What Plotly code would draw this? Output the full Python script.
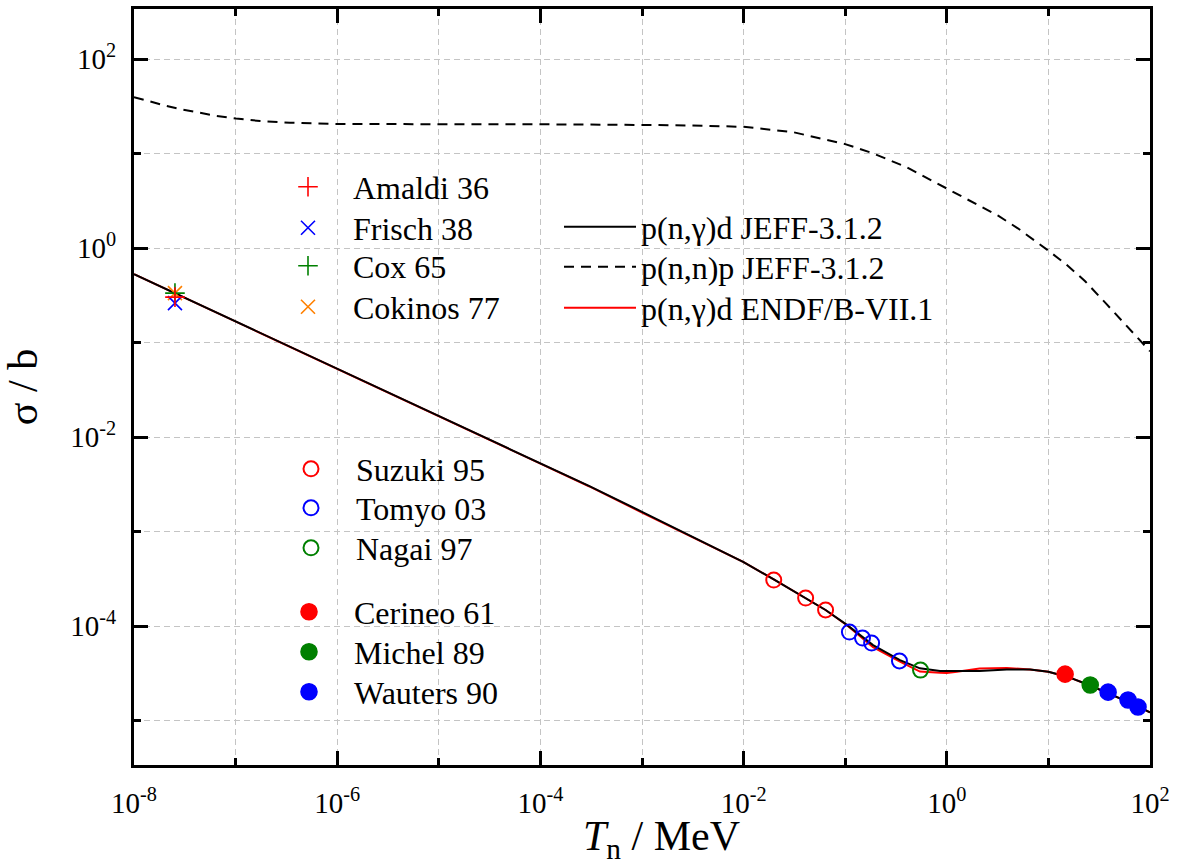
import plotly.graph_objects as go

# ---------------- data ----------------
# p(n,gamma)d JEFF-3.1.2
jeff_cap_E = [1e-8, 1e-7, 1e-6, 1e-5, 1e-4, 3e-4, 1e-3, 3e-3, 0.01, 0.0198, 0.0408,
              0.0641, 0.104, 0.188, 0.346, 0.544, 0.857, 1.26, 2.1, 3.9, 6.6, 10.0,
              15.8, 25.1, 39.8, 63.1, 100.0]
jeff_cap_sigma = [0.53, 0.167, 0.0528, 0.0167, 0.00528, 0.00304, 0.00162, 8.97e-4,
                  4.75e-4, 3.12e-4, 1.98e-4, 1.48e-4, 1.03e-4, 6.3e-5, 4.37e-5,
                  3.57e-5, 3.34e-5, 3.34e-5, 3.35e-5, 3.48e-5, 3.48e-5, 3.28e-5,
                  2.88e-5, 2.38e-5, 1.93e-5, 1.55e-5, 1.22e-5]

# p(n,n)p JEFF-3.1.2
jeff_el_E = [1e-8, 1.44e-8, 2.02e-8, 2.84e-8, 4.17e-8, 6.27e-8, 1.01e-7, 1.74e-7,
             3.43e-7, 1e-6, 4.15e-6, 1e-5, 1e-4, 1e-3, 3e-3, 1e-2, 0.0304, 0.1,
             0.186, 0.4, 1.0, 2.0, 3.2, 5.0, 7.0, 10.0, 15.0, 23.0, 37.0, 50.0,
             78.0, 100.0]
jeff_el_sigma = [39.6, 35.4, 32.2, 29.6, 27.2, 25.2, 23.5, 22.1, 21.2, 20.6, 20.5,
                 20.5, 20.4, 20.1, 19.85, 19.2, 16.9, 12.6, 10.1, 7.2, 4.3, 2.92,
                 2.2, 1.62, 1.25, 0.94, 0.67, 0.446, 0.258, 0.182, 0.108, 0.081]

# p(n,gamma)d ENDF/B-VII.1
endf_cap_E = [1e-8, 1e-7, 1e-6, 1e-5, 1e-4, 3e-4, 1e-3, 3e-3, 0.01, 0.0198, 0.0408,
              0.0641, 0.104, 0.188, 0.346, 0.544, 0.857, 1.0, 1.26, 2.1, 3.9, 6.6,
              10.0, 15.8, 25.1, 39.8, 63.1, 100.0]
endf_cap_sigma = [0.53, 0.167, 0.0528, 0.0167, 0.00528, 0.00302, 0.00159, 8.9e-4,
                  4.75e-4, 3.12e-4, 1.98e-4, 1.48e-4, 1.02e-4, 6.0e-5, 4.2e-5,
                  3.3e-5, 3.2e-5, 3.18e-5, 3.28e-5, 3.55e-5, 3.6e-5, 3.48e-5,
                  3.28e-5, 2.88e-5, 2.38e-5, 1.93e-5, 1.55e-5, 1.22e-5]

# thermal measurements
amaldi_E, amaldi_sigma = [2.53e-8], [0.303]
frisch_E, frisch_sigma = [2.53e-8], [0.262]
cox_E, cox_sigma = [2.53e-8], [0.334]
cokinos_E, cokinos_sigma = [2.53e-8], [0.334]

# keV / MeV measurements
suzuki_E, suzuki_sigma = [0.0198, 0.0408, 0.0641], [3.07e-4, 1.98e-4, 1.48e-4]
tomyo_E, tomyo_sigma = [0.110, 0.148, 0.182, 0.342], [8.64e-5, 7.46e-5, 6.61e-5, 4.27e-5]
nagai_E, nagai_sigma = [0.551], [3.42e-5]
cerineo_E, cerineo_sigma = [14.6], [3.1e-5]
michel_E, michel_sigma = [25.8], [2.38e-5]
wauters_E, wauters_sigma = [38.7, 60.8, 76.2], [2.0e-5, 1.65e-5, 1.39e-5]

x_major = [1e-8, 1e-6, 1e-4, 1e-2, 1e0, 1e2]
x_major_text = ["10<sup>-8</sup>", "10<sup>-6</sup>", "10<sup>-4</sup>",
                "10<sup>-2</sup>", "10<sup>0</sup>", "10<sup>2</sup>"]
x_minor = [1e-7, 1e-5, 1e-3, 1e-1, 1e1]
y_major = [1e-4, 1e-2, 1e0, 1e2]
y_major_text = ["10<sup>-4</sup>", "10<sup>-2</sup>", "10<sup>0</sup>", "10<sup>2</sup>"]
y_minor = [1e-5, 1e-3, 1e-1, 1e1]

x_title = "<i>T</i><sub>n</sub> / MeV"
y_title = "σ / b"

# ---------------- figure ----------------
W, H = 1179, 866
L, R, T, B = 134, 29, 9, 101
PW, PH = W - L - R, H - T - B
FONT = "Liberation Serif, Times New Roman, serif"

fig = go.Figure()

legends = {}
counter = [0]


def leg(px, py, itemwidth=30):
    counter[0] += 1
    key = "legend" if counter[0] == 1 else f"legend{counter[0]}"
    legends[key] = dict(
        x=(px - L) / PW, y=(H - B - py) / PH, xanchor="left", yanchor="middle",
        bgcolor="rgba(0,0,0,0)", borderwidth=0, itemwidth=itemwidth,
        font=dict(family=FONT, size=32, color="black"),
    )
    return key


# lines (red first so black sits on top)
fig.add_trace(go.Scatter(x=endf_cap_E, y=endf_cap_sigma, mode="lines",
                         line=dict(color="#ff0000", width=2),
                         name="p(n,γ)d ENDF/B-VII.1", legend=leg(559, 308, 72)))
fig.add_trace(go.Scatter(x=jeff_cap_E, y=jeff_cap_sigma, mode="lines",
                         line=dict(color="black", width=2),
                         name="p(n,γ)d JEFF-3.1.2", legend=leg(559, 227, 72)))
fig.add_trace(go.Scatter(x=jeff_el_E, y=jeff_el_sigma, mode="lines",
                         line=dict(color="black", width=2, dash="10px,7px"),
                         name="p(n,n)p JEFF-3.1.2", legend=leg(559, 267, 72)))

sym_specs = [
    ("Cokinos 77", cokinos_E, cokinos_sigma, "x-thin", "#ff8000", 14, 307, 263),
    ("Cox 65", cox_E, cox_sigma, "cross-thin", "#008000", 14, 266, 263),
    ("Frisch 38", frisch_E, frisch_sigma, "x-thin", "#0000ff", 14, 228, 263),
    ("Amaldi 36", amaldi_E, amaldi_sigma, "cross-thin", "#ff0000", 14, 187, 263),
    ("Suzuki 95", suzuki_E, suzuki_sigma, "circle-open", "#ff0000", 15, 469, 266),
    ("Tomyo 03", tomyo_E, tomyo_sigma, "circle-open", "#0000ff", 15, 508, 266),
    ("Nagai 97", nagai_E, nagai_sigma, "circle-open", "#008000", 15, 548, 266),
    ("Cerineo 61", cerineo_E, cerineo_sigma, "circle", "#ff0000", 16, 612, 264),
    ("Michel 89", michel_E, michel_sigma, "circle", "#008000", 16, 652, 264),
    ("Wauters 90", wauters_E, wauters_sigma, "circle", "#0000ff", 16, 692, 264),
]
for name, xs, ys, sym, col, size, ly, lx in sym_specs:
    fig.add_trace(go.Scatter(
        x=xs, y=ys, mode="markers", name=name,
        marker=dict(symbol=sym, size=size, color=col,
                    line=dict(color=col, width=2 if "open" in sym else 1.6)),
        legend=leg(lx, ly, 80)))

grid_col = "#c4c4c4"
axis_common = dict(
    type="log", showline=True, linewidth=3, linecolor="black", mirror="ticks",
    ticks="inside", ticklen=14, tickwidth=3, tickcolor="black", automargin=False,
    showgrid=True, gridcolor=grid_col, gridwidth=1, griddash="6px,4px",
    zeroline=False, tickfont=dict(family=FONT, size=29, color="black"),
)

fig.update_xaxes(
    **axis_common, range=[-8, 2], tickmode="array", tickvals=x_major,
    ticktext=x_major_text, ticklabelstandoff=10,
    minor=dict(tickvals=x_minor, ticks="inside", ticklen=7, tickwidth=3,
               tickcolor="black", showgrid=True, gridcolor=grid_col,
               gridwidth=1, griddash="6px,4px"),
)
fig.update_yaxes(
    **axis_common, range=[-5.47, 2.53], tickmode="array", tickvals=y_major,
    ticktext=y_major_text, ticklabelstandoff=9,
    minor=dict(tickvals=y_minor, ticks="inside", ticklen=7, tickwidth=3,
               tickcolor="black", showgrid=True, gridcolor=grid_col,
               gridwidth=1, griddash="6px,4px"),
    title=dict(text=y_title, font=dict(family=FONT, size=42, color="black"),
               standoff=20),
)

fig.add_annotation(
    text=x_title, xref="paper", yref="paper",
    x=(661 - L) / PW, y=-(839 - (H - B)) / PH, xanchor="center", yanchor="middle",
    showarrow=False, font=dict(family=FONT, size=42, color="black"),
)

fig.update_layout(
    width=W, height=H, margin=dict(l=L, r=R, t=T, b=B, pad=0, autoexpand=False),
    plot_bgcolor="white", paper_bgcolor="white", showlegend=True,
    font=dict(family=FONT, color="black"),
    **legends,
)

fig.write_html("out.html")
